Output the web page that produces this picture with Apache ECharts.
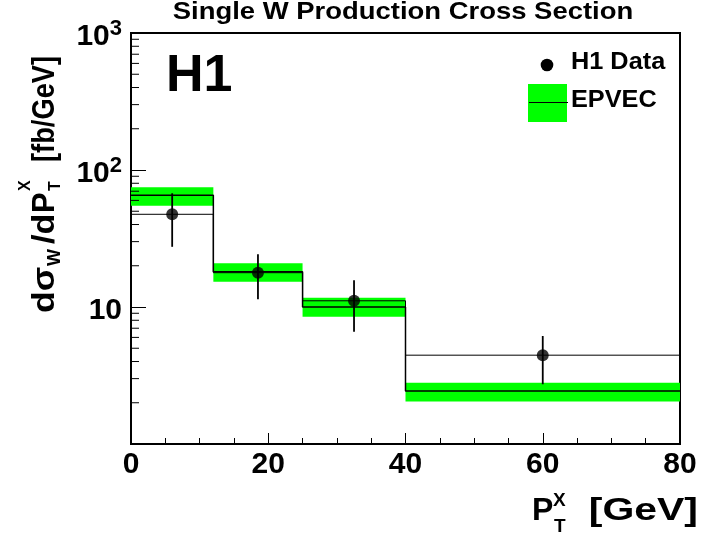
<!DOCTYPE html>
<html><head><meta charset="utf-8">
<script src="https://cdn.jsdelivr.net/npm/echarts@6/dist/echarts.min.js"></script>
<style>html,body{margin:0;padding:0;background:#fff}#c{width:703px;height:537px}</style>
</head><body><div id="c"></div>
<script>
// ---- data ----
const binEdges   = [0, 12, 25, 40, 80];
const dataX      = [6, 18.5, 32.5, 60];
const dataY      = [47.5, 17.8, 11.1, 4.45];
const dataErrLo  = [27.5, 11.4, 6.6, 2.73];
const dataErrHi  = [67.6, 24.3, 15.7, 6.14];
const epvecY     = [65.4, 18.1, 10.0, 2.44];
const epvecLo    = [54.9, 15.3, 8.5, 2.04];
const epvecHi    = [74.8, 20.9, 11.7, 2.80];
const xTickLabels = ['0', '20', '40', '60', '80'];
const yTickLabels = {1: '', 10: '10', 100: '10{sup|2}', 1000: '10{sup|3}'};
const yMinorTicks = [2,3,4,5,6,7,8,9, 20,30,40,50,60,70,80,90, 200,300,400,500,600,700,800,900];
const titleText = 'Single W Production Cross Section';
const legendNames = ['H1 Data', 'EPVEC'];

const FONT = '"Liberation Sans", Arial, Helvetica, sans-serif';
const nB = dataY.length;

function stepData(vals) {
  return binEdges.map((e, i) => [e, vals[Math.min(i, vals.length - 1)]]);
}
function txt(text, x, baseline, size, align, sx) {
  return { type: 'text', x: x, y: baseline - 0.3465 * size, scaleX: sx || 1,
    style: { text: text, font: 'bold ' + size + 'px ' + FONT, fill: '#000',
      align: align || 'left', verticalAlign: 'middle' } };
}

const chart = echarts.init(document.getElementById('c'), null, {renderer: 'canvas'});
const option = {
  animation: false,
  backgroundColor: '#fff',
  grid: { left: 131, top: 33, width: 549, height: 411, show: true,
    borderColor: '#000', borderWidth: 2, backgroundColor: 'transparent', containLabel: false },
  xAxis: {
    type: 'value', min: 0, max: 80, interval: 20,
    axisLine: { show: true, onZero: false, lineStyle: { color: '#000', width: 2 } },
    axisTick: { show: true, inside: true, length: 11, lineStyle: { color: '#000', width: 1 } },
    minorTick: { show: true, splitNumber: 4, length: 6, lineStyle: { color: '#000', width: 1 } },
    splitLine: { show: false }, minorSplitLine: { show: false },
    axisLabel: { fontFamily: FONT, fontWeight: 'bold', fontSize: 30, color: '#000', margin: 6,
      formatter: (v) => xTickLabels[Math.round(v / 20)] }
  },
  yAxis: {
    type: 'log', logBase: 10, min: 1, max: 1000,
    axisLine: { show: true, onZero: false, lineStyle: { color: '#000', width: 2 } },
    axisTick: { show: true, inside: true, length: 15, lineStyle: { color: '#000', width: 1 } },
    splitLine: { show: false },
    axisLabel: { fontFamily: FONT, fontWeight: 'bold', fontSize: 30, color: '#000', margin: 9,
      lineHeight: 38, padding: [7, 0, 0, 0],
      formatter: (v) => yTickLabels[Math.round(v)] || '',
      rich: { sup: { fontFamily: FONT, fontWeight: 'bold', fontSize: 22, color: '#000',
        lineHeight: 22, verticalAlign: 'top' } } }
  },
  series: [
    { type: 'custom', name: 'EPVEC band', z: 1,
      data: binEdges.slice(0, nB).map((e, i) => [e, binEdges[i + 1], epvecLo[i], epvecHi[i]]),
      encode: { x: [0, 1], y: [2, 3] },
      renderItem: (params, api) => {
        const p1 = api.coord([api.value(0), api.value(3)]);
        const p2 = api.coord([api.value(1), api.value(2)]);
        return { type: 'rect', shape: { x: p1[0], y: p1[1], width: p2[0] - p1[0], height: p2[1] - p1[1] },
          style: { fill: '#00ff00' } };
      } },
    { type: 'line', name: 'EPVEC', z: 2, step: 'end', symbol: 'none', data: stepData(epvecY),
      lineStyle: { color: '#000', width: 1.5 } },
    { type: 'line', name: 'H1 Data hist', z: 2, step: 'end', symbol: 'none', data: stepData(dataY),
      lineStyle: { color: '#000', width: 1 } },
    { type: 'custom', name: 'errors', z: 3,
      data: dataX.map((x, i) => [x, dataErrLo[i], dataErrHi[i]]),
      encode: { x: 0, y: [1, 2] },
      renderItem: (params, api) => {
        const a = api.coord([api.value(0), api.value(1)]);
        const b = api.coord([api.value(0), api.value(2)]);
        return { type: 'line', shape: { x1: a[0], y1: a[1], x2: b[0], y2: b[1] },
          style: { stroke: '#000', lineWidth: 1.8 } };
      } },
    { type: 'scatter', name: 'H1 Data', z: 4, symbol: 'circle', symbolSize: 12,
      itemStyle: { color: '#000' }, data: dataX.map((x, i) => [x, dataY[i]]) },
    { type: 'custom', name: 'yminor', z: 5, silent: true,
      data: yMinorTicks.map(v => [0, v]), encode: { x: 0, y: 1 },
      renderItem: (params, api) => {
        const p = api.coord([api.value(0), api.value(1)]);
        return { type: 'line', shape: { x1: p[0], y1: p[1], x2: p[0] + 8, y2: p[1] },
          style: { stroke: '#000', lineWidth: 1 } };
      } }
  ],
  graphic: [
    txt(titleText, 403, 21, 24.5, 'center', 1.12),
    txt('H1', 166, 95, 52),
    // legend
    { type: 'circle', shape: { cx: 547, cy: 65, r: 6.3 }, style: { fill: '#000' } },
    txt(legendNames[0], 571, 71, 23, 'left', 1.1),
    { type: 'rect', shape: { x: 528, y: 84, width: 39, height: 38 }, style: { fill: '#00ff00' } },
    { type: 'line', shape: { x1: 529, y1: 102.5, x2: 568, y2: 102.5 }, style: { stroke: '#000', lineWidth: 1 } },
    txt(legendNames[1], 571, 109, 23, 'left', 1.1),
    // x axis title  P_T^X [GeV]
    { type: 'group', children: [
      txt('P', 532, 522, 32),
      txt('X', 553, 507, 19),
      txt('T', 554, 533, 19),
      txt('[GeV]', 698, 522, 32, 'right', 1.28)
    ] },
    // y axis title  dσ_W /dP_T^X [fb/GeV]  (rotated)
    { type: 'group', x: 56, y: 313, rotation: Math.PI / 2, children: [
      txt('dσ', 0, 0, 31, 'left', 1.15),
      txt('W', 47, 5, 18),
      txt('/d', 69, 0, 31, 'left', 1.1),
      txt('P', 100, 0, 31),
      txt('X', 122, -25, 16),
      txt('T', 122, 5, 16),
      txt('[fb/GeV]', 151, 0, 31, 'left', 0.88)
    ] }
  ]
};
chart.setOption(option);
</script>
</body></html>
